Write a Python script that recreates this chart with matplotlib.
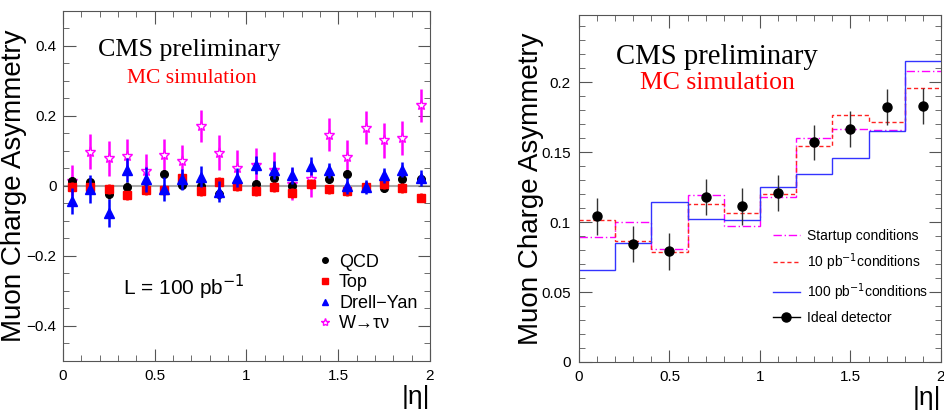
import numpy as np
import matplotlib

matplotlib.use("Agg")
import matplotlib.pyplot as plt
from matplotlib.lines import Line2D
from matplotlib.ticker import MultipleLocator, FixedLocator

plt.rcParams["font.family"] = ["Liberation Sans", "DejaVu Sans"]

# ---- left panel: asymmetry per background, 20 bins in |eta| ----
eta_edges_l = np.linspace(0, 2, 21)
qcd = [0.014, 0.010, -0.024, -0.002, -0.010, 0.035, 0.002, 0.000, -0.024, 0.009,
       0.005, 0.022, 0.000, 0.005, 0.021, 0.033, -0.002, -0.005, 0.019, 0.021]
qcd_err = [0.012] * 20
top = [-0.002, -0.002, -0.008, -0.027, -0.011, -0.011, 0.023, -0.014, 0.012, 0.000,
       -0.014, -0.003, -0.019, 0.005, -0.010, -0.014, -0.002, 0.005, -0.005, -0.033]
top_err = [0.014] * 20
dy = [-0.043, -0.008, -0.078, 0.045, 0.019, -0.008, 0.019, 0.027, -0.017, 0.024,
      0.060, 0.045, 0.030, 0.057, 0.045, 0.000, -0.002, 0.030, 0.047, 0.023]
dy_err = [0.038, 0.040, 0.040, 0.035, 0.035, 0.035, 0.030, 0.030, 0.030, 0.028,
          0.025, 0.025, 0.025, 0.025, 0.022, 0.022, 0.020, 0.022, 0.022, 0.022]
wtau = [0.015, 0.098, 0.079, 0.085, 0.043, 0.089, 0.070, 0.171, 0.095, 0.052,
        0.059, 0.045, 0.005, 0.020, 0.147, 0.084, 0.166, 0.130, 0.137, 0.230]
wtau_err = [0.045, 0.050, 0.050, 0.048, 0.048, 0.046, 0.048, 0.046, 0.050, 0.052,
            0.050, 0.052, 0.046, 0.052, 0.048, 0.046, 0.047, 0.049, 0.049, 0.046]

# ---- right panel: asymmetry under different alignment conditions ----
eta_edges_r = np.linspace(0, 2, 11)
startup = [0.0893, 0.1000, 0.0810, 0.1195, 0.0971, 0.1181, 0.1598, 0.1667, 0.1655, 0.2080]
pb10 = [0.1017, 0.0867, 0.0786, 0.1129, 0.1064, 0.1200, 0.1545, 0.1764, 0.1712, 0.1960]
pb100 = [0.0660, 0.0852, 0.1143, 0.1021, 0.1014, 0.1248, 0.1343, 0.1460, 0.1650, 0.2150]
ideal = [0.104, 0.0845, 0.079, 0.118, 0.1112, 0.121, 0.157, 0.1664, 0.182, 0.183]
ideal_err = [0.013, 0.013, 0.013, 0.013, 0.0133, 0.013, 0.0125, 0.0127, 0.0129, 0.0127]

ticks_x = [0, 0.5, 1, 1.5, 2]
ticklabels_x = ["0", "0.5", "1", "1.5", "2"]


def root_style(ax):
    ax.tick_params(which="both", direction="in", top=True, right=True,
                   labelsize=11, pad=6, color="#555555")
    ax.tick_params(which="major", length=9)
    ax.tick_params(which="minor", length=4.5)
    for s in ax.spines.values():
        s.set_color("#555555")


fig = plt.figure(figsize=(9.44, 4.18), dpi=100)

# left
ax1 = fig.add_axes([0.0667, 0.1364, 0.3888, 0.8373])
xl = 0.5 * (eta_edges_l[:-1] + eta_edges_l[1:])
ax1.axhline(0, color="#aaaaaa", lw=1.5, zorder=1)
ax1.errorbar(xl, wtau, yerr=wtau_err, fmt="*", ms=8, mfc="white", mec="#ff00ff",
             ecolor="#ff00ff", elinewidth=1.8, capsize=0, zorder=2)
ax1.errorbar(xl, qcd, yerr=qcd_err, fmt="o", ms=5.5, color="black",
             elinewidth=1.8, capsize=0, zorder=3)
ax1.errorbar(xl, top, yerr=top_err, fmt="s", ms=5.5, color="#ff0000",
             elinewidth=1.8, capsize=0, zorder=4)
ax1.errorbar(xl, dy, yerr=dy_err, fmt="^", ms=6.5, color="#0000ff",
             elinewidth=1.8, capsize=0, zorder=5)
ax1.set_xlim(0, 2)
ax1.set_ylim(-0.5, 0.5)
ax1.xaxis.set_major_locator(FixedLocator(ticks_x))
ax1.xaxis.set_minor_locator(MultipleLocator(0.1))
ax1.yaxis.set_major_locator(FixedLocator([-0.4, -0.2, 0, 0.2, 0.4]))
ax1.yaxis.set_minor_locator(MultipleLocator(0.05))
ax1.set_xticklabels(ticklabels_x)
ax1.set_yticklabels(["\u22120.4", "\u22120.2", "0", "0.2", "0.4"])
root_style(ax1)
ax1.tick_params(axis="y", pad=4.5)
ax1.set_ylabel("Muon Charge Asymmetry", fontsize=20)
ax1.yaxis.set_label_coords(-0.097, 0.5)
ax1.text(1.0, -0.07, "|\u03b7|", transform=ax1.transAxes, ha="right", va="top", fontsize=19)
ax1.text(0.343, 0.889, "CMS preliminary", transform=ax1.transAxes, ha="center",
         va="center", fontsize=18.7, family="Liberation Serif")
ax1.text(0.351, 0.806, "MC simulation", transform=ax1.transAxes, ha="center",
         va="center", fontsize=15.5, family="Liberation Serif", color="#ff0000")
ax1.text(0.33, 0.21, "L = 100 pb$^{-1}$", transform=ax1.transAxes, ha="center",
         va="center", fontsize=15)
leg_handles = [
    Line2D([], [], ls="none", marker="o", ms=4, color="black"),
    Line2D([], [], ls="none", marker="s", ms=4, color="#ff0000"),
    Line2D([], [], ls="none", marker="^", ms=4.5, color="#0000ff"),
    Line2D([], [], ls="none", marker="*", ms=6, mfc="white", mec="#ff00ff"),
]
ax1.legend(leg_handles, ["QCD", "Top", "Drell\u2212Yan", "W\u2192\u03c4\u03bd"],
           loc="lower right", bbox_to_anchor=(1.01, 0.035), frameon=False, fontsize=13,
           handlelength=0.8, handletextpad=0.4, labelspacing=0.2)

# right
ax2 = fig.add_axes([0.6133, 0.134, 0.3835, 0.830])
ax2.stairs(startup, eta_edges_r, color="#ff00ff", lw=1.0, ls=(0, (6, 2, 1, 2)),
           baseline=None)
ax2.stairs(pb10, eta_edges_r, color="#ff2222", lw=1.0, ls=(0, (3, 2)),
           baseline=None)
ax2.stairs(pb100, eta_edges_r, color="#3333ff", lw=1.0, baseline=None)
xr = 0.5 * (eta_edges_r[:-1] + eta_edges_r[1:])
ax2.errorbar(xr, ideal, yerr=ideal_err, fmt="o", ms=6.5, color="black",
             ecolor="#333333", elinewidth=1.0, capsize=0)
ax2.set_xlim(0, 2)
ax2.set_ylim(0, 0.248)
ax2.xaxis.set_major_locator(FixedLocator(ticks_x))
ax2.xaxis.set_minor_locator(MultipleLocator(0.1))
ax2.yaxis.set_major_locator(FixedLocator([0, 0.05, 0.1, 0.15, 0.2]))
ax2.yaxis.set_minor_locator(MultipleLocator(0.01))
ax2.set_xticklabels(ticklabels_x)
ax2.set_yticklabels(["0", "0.05", "0.1", "0.15", "0.2"])
root_style(ax2)
ax2.set_ylabel("Muon Charge Asymmetry", fontsize=20)
ax2.yaxis.set_label_coords(-0.097, 0.5)
ax2.text(1.0, -0.07, "|\u03b7|", transform=ax2.transAxes, ha="right", va="top", fontsize=19)
ax2.text(0.381, 0.879, "CMS preliminary", transform=ax2.transAxes, ha="center",
         va="center", fontsize=20.7, family="Liberation Serif")
ax2.text(0.383, 0.804, "MC simulation", transform=ax2.transAxes, ha="center",
         va="center", fontsize=18.5, family="Liberation Serif", color="#ff0000")
leg2_handles = [
    Line2D([], [], color="#ff00ff", lw=1.0, ls=(0, (6, 2, 1, 2))),
    Line2D([], [], color="#ff2222", lw=1.0, ls=(0, (3, 2))),
    Line2D([], [], color="#3333ff", lw=1.0),
    Line2D([], [], color="black", lw=1.0, marker="o", ms=6.5),
]
ax2.legend(leg2_handles, ["Startup conditions", "10 pb$^{-1}$conditions",
                          "100 pb$^{-1}$conditions", "Ideal detector"],
           loc="lower right", bbox_to_anchor=(1.0, 0.07), frameon=False,
           fontsize=10, handlelength=2.0, handletextpad=0.5, labelspacing=0.6)

fig.savefig("out.png", dpi=100)
